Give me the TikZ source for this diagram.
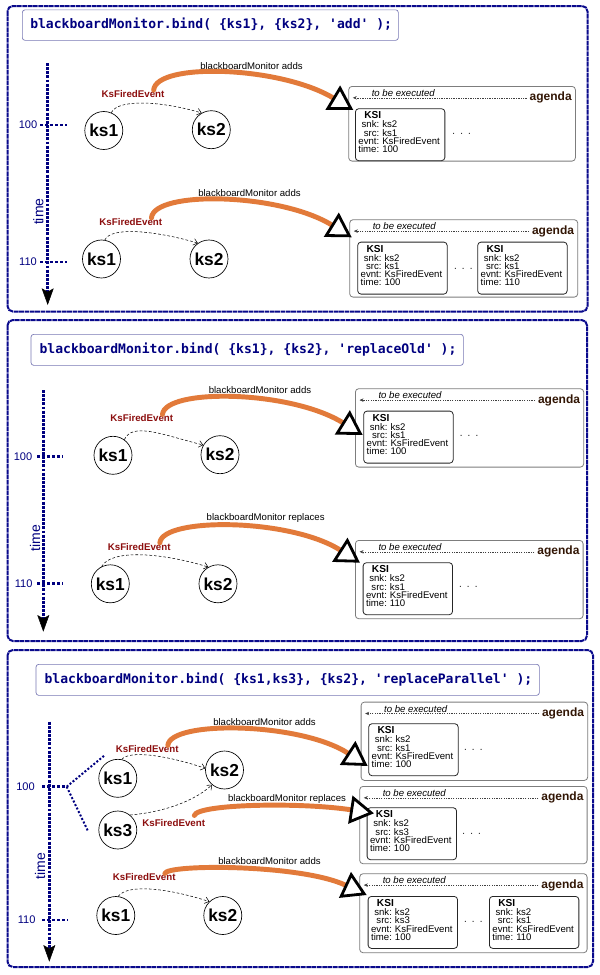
\documentclass[tikz,border=0pt]{standalone}
\usepackage{fontspec}
\setmainfont{Liberation Sans}
\newfontfamily\codefont{DejaVu Sans Mono}[Ligatures=TeXOff]
\usetikzlibrary{arrows.meta,calc}
\definecolor{navyc}{RGB}{0,0,128}
\definecolor{panelc}{RGB}{10,10,140}
\definecolor{titleframe}{RGB}{120,120,180}
\definecolor{orangec}{RGB}{226,122,58}
\definecolor{evred}{RGB}{140,14,14}
\definecolor{agbrown}{RGB}{50,22,5}
\definecolor{agframe}{RGB}{125,125,125}

\tikzset{
  panel/.style={draw=panelc, line width=1.5pt, dash pattern=on 3.5pt off 0.5pt, rounded corners=4pt},
  titlebox/.style={draw=titleframe, line width=0.5pt, rounded corners=2pt, anchor=north west, inner sep=0pt},
  titletext/.style={font=\codefont\bfseries\fontsize{9.8}{11}\selectfont, text=navyc, anchor=west, inner sep=0pt},
  timeaxis/.style={draw=navyc, line width=2.2pt, dash pattern=on 2.2pt off 0.9pt,
     -{Stealth[length=12.5pt,width=9pt,inset=2.5pt,color=black,line width=0.4pt]}},
  tickline/.style={draw=navyc, line width=2.2pt, dash pattern=on 2.2pt off 1.6pt},
  branch/.style={draw=navyc, line width=1.5pt, dash pattern=on 1.5pt off 1.4pt},
  ticklabel/.style={font=\fontsize{8.3}{10}\selectfont, text=navyc, inner sep=0pt},
  timelabel/.style={font=\fontsize{10.5}{12}\selectfont, text=navyc, inner sep=0pt, rotate=90},
  ksnode/.style={circle, draw, line width=0.5pt, fill=white, minimum size=28.5pt, inner sep=0pt, font=\bfseries\fontsize{13}{15}\selectfont},
  evlabel/.style={font=\bfseries\fontsize{7.3}{8}\selectfont, text=evred, inner sep=0pt},
  bmlabel/.style={font=\fontsize{7.2}{8}\selectfont, inner sep=0pt},
  evt/.style={draw=black, line width=0.4pt, dash pattern=on 2pt off 1.5pt, -{Straight Barb[length=3pt,width=5pt]}},
  bm/.style={draw=orangec, line width=3.7pt, line cap=round, -{Triangle[length=18pt,width=21pt,color=black,fill=white,line width=2.1pt]}},
  agbox/.style={draw=agframe, line width=0.6pt, rounded corners=2.5pt, anchor=north west, inner sep=0pt},
  tbe/.style={font=\itshape\fontsize{7.2}{8}\selectfont, inner sep=0pt},
  agtext/.style={font=\bfseries\fontsize{9}{10}\selectfont, text=agbrown, anchor=east, inner sep=0pt},
  agarrow/.style={draw=black!75, line width=0.4pt, dash pattern=on 1pt off 0.8pt, shorten <=2pt, -{Stealth[length=3pt,width=2.6pt]}},
  ksibox/.style={draw=black!85, line width=0.6pt, rounded corners=2.5pt, anchor=north west, inner sep=0pt, minimum width=67.1pt, minimum height=39pt},
  ksihead/.style={font=\bfseries\fontsize{7.6}{8}\selectfont, anchor=base west, inner sep=0pt},
  ksilab/.style={font=\fontsize{7.2}{8}\selectfont, anchor=base east, inner sep=0pt},
  ksival/.style={font=\fontsize{7.2}{8}\selectfont, anchor=base west, inner sep=0pt},
  ellip/.style={font=\fontsize{7.2}{8}\selectfont, inner sep=0pt},
}

\newcommand\agendablock[5]{%
 \begin{scope}[shift={(#2,#3)}]
  \node[agbox, minimum width=#4*0.75pt, minimum height=#5*0.75pt] (#1) at (0,0) {};
  \node[tbe] (#1-tbe) at (55,7) {to be executed};
  \node[agtext] (#1-ag) at (#4-3,11.8) {agenda};
  \coordinate (#1-end) at (4.5,11.8);
  \draw[agarrow] (#1-ag.west) -- (#1-end);
 \end{scope}}

\newcommand\ksiblock[5]{%
 \begin{scope}[shift={(#2,#3)}]
  \node[ksibox] (#1) at (0,0) {};
  \node[ksihead] (#1-h) at (9,10.3) {KSI};
  \node[ksilab] (#1-a1) at (24.5,19.6) {snk:};
  \node[ksival] (#1-b1) at (27,19.6) {ks2};
  \node[ksilab] (#1-a2) at (24.5,27.8) {src:};
  \node[ksival] (#1-b2) at (27,27.8) {#4};
  \node[ksilab] (#1-a3) at (24.5,36) {evnt:};
  \node[ksival] (#1-b3) at (27,36) {KsFiredEvent};
  \node[ksilab] (#1-a4) at (24.5,44.2) {time:};
  \node[ksival] (#1-b4) at (27,44.2) {#5};
 \end{scope}}

\newcommand\threedots{·\hspace{3.5pt}·\hspace{3.5pt}·}

\begin{document}
\begin{tikzpicture}[x=0.75pt,y=-0.75pt]
\useasboundingbox (0,0) rectangle (600,975);
\fill[white] (0,0) rectangle (600,975);

%%%%%%%%%%%%%%%% Panel 1
\draw[panel] (7.5,6) rectangle (587.5,311.5);
\node[titlebox, minimum width=376*0.75pt, minimum height=30.5*0.75pt] (p1-tb) at (22,9.5) {};
\node[titletext] (p1-tt) at (30,24.5) {blackboardMonitor.bind( \{ks1\}, \{ks2\}, 'add' );};

\coordinate (p1-ax0) at (47.7,63);
\coordinate (p1-ax1) at (47.7,305);
\draw[timeaxis] (p1-ax0) -- (p1-ax1);
\node[ticklabel] (p1-l100) at (28,125) {100};
\draw[tickline] (40,125) -- (67,125);
\node[ticklabel] (p1-l110) at (28,262) {110};
\draw[tickline] (40,262) -- (67,262);
\node[timelabel] (p1-time) at (38.3,211.7) {time};

% part a
\node[ksnode] (p1a-ks1) at (103.8,130.5) {ks1};
\node[ksnode] (p1a-ks2) at (211.3,129.7) {ks2};
\draw[evt] (p1a-ks1.67) .. controls +(6,-14) and +(-40,-12) .. (p1a-ks2.120);
\node[evlabel] (p1a-ev) at (133,94) {KsFiredEvent};
\node[bmlabel] (p1a-bm) at (251.5,66) {blackboardMonitor adds};
\agendablock{p1a-ag}{348.3}{86}{226.7}{74.7}
\ksiblock{p1a-k1}{355}{108.3}{ks1}{100}
\node[ellip] (p1a-dots) at (461.7,135) {\threedots};
\coordinate (p1a-tip) at (353.3,110);
\draw[bm] ($(p1a-ev.north east)+(-11,0)$) .. controls (156,62) and (280,66) .. (p1a-tip);

% part b
\node[ksnode] (p1b-ks1) at (101.5,259) {ks1};
\node[ksnode] (p1b-ks2) at (209,259) {ks2};
\draw[evt] (p1b-ks1.80) .. controls +(6,-14) and +(-40,-12) .. (p1b-ks2.125);
\node[evlabel] (p1b-ev) at (130.8,221.7) {KsFiredEvent};
\node[bmlabel] (p1b-bm) at (249.5,193.3) {blackboardMonitor adds};
\agendablock{p1b-ag}{349.3}{219.3}{228}{77.4}
\ksiblock{p1b-k1}{357.3}{241.7}{ks1}{100}
\ksiblock{p1b-k2}{477.3}{241.7}{ks1}{110}
\node[ellip] (p1b-dots) at (463.3,270) {\threedots};
\coordinate (p1b-tip) at (351.7,237.3);
\draw[bm] ($(p1b-ev.north east)+(-11,0)$) .. controls (154,190) and (280,193) .. (p1b-tip);

%%%%%%%%%%%%%%%% Panel 2
\draw[panel] (7.5,320) rectangle (587,641);
\node[titlebox, minimum width=432.3*0.75pt, minimum height=31*0.75pt] (p2-tb) at (30.7,334) {};
\node[titletext] (p2-tt) at (39.3,349.5) {blackboardMonitor.bind( \{ks1\}, \{ks2\}, 'replaceOld' );};

\coordinate (p2-ax0) at (43.3,390);
\coordinate (p2-ax1) at (43.3,631.7);
\draw[timeaxis] (p2-ax0) -- (p2-ax1);
\node[ticklabel] (p2-l100) at (23,456.7) {100};
\draw[tickline] (37,456.7) -- (63,456.7);
\node[ticklabel] (p2-l110) at (23.7,583.3) {110};
\draw[tickline] (37,583.3) -- (63,583.3);
\node[timelabel] (p2-time) at (35,538) {time};

% part a
\node[ksnode] (p2a-ks1) at (113,455.3) {ks1};
\node[ksnode] (p2a-ks2) at (220,454.7) {ks2};
\draw[evt] (p2a-ks1.54) .. controls +(8,-18) and +(-40,-10) .. (p2a-ks2.150);
\node[evlabel] (p2a-ev) at (141.8,418.3) {KsFiredEvent};
\node[bmlabel] (p2a-bm) at (260,390) {blackboardMonitor adds};
\agendablock{p2a-ag}{355}{388.3}{228.3}{78.4}
\ksiblock{p2a-k1}{363.3}{410.7}{ks1}{100}
\node[ellip] (p2a-dots) at (469,437) {\threedots};
\coordinate (p2a-tip) at (362.7,435);
\draw[bm] ($(p2a-ev.north east)+(-11,0)$) .. controls (165,388) and (290,390) .. (p2a-tip);

% part b
\node[ksnode] (p2b-ks1) at (110.3,583.8) {ks1};
\node[ksnode] (p2b-ks2) at (218,583.8) {ks2};
\draw[evt] (p2b-ks1.117) .. controls +(10,-18) and +(-45,-14) .. (p2b-ks2.120);
\node[evlabel] (p2b-ev) at (139.2,546.7) {KsFiredEvent};
\node[bmlabel] (p2b-bm) at (265.7,518.3) {blackboardMonitor replaces};
\agendablock{p2b-ag}{355}{540}{227.7}{78.3}
\ksiblock{p2b-k1}{362.7}{562.3}{ks1}{110}
\node[ellip] (p2b-dots) at (468.3,588.3) {\threedots};
\coordinate (p2b-tip) at (360,562.7);
\draw[bm] ($(p2b-ev.north east)+(-11,0)$) .. controls (162,517) and (290,518) .. (p2b-tip);

%%%%%%%%%%%%%%%% Panel 3
\draw[panel] (7.5,650) rectangle (593,967);
\node[titlebox, minimum width=503.3*0.75pt, minimum height=31*0.75pt] (p3-tb) at (35.7,664) {};
\node[titletext] (p3-tt) at (44.3,680) {blackboardMonitor.bind( \{ks1,ks3\}, \{ks2\}, 'replaceParallel' );};

\coordinate (p3-ax0) at (49.3,721.7);
\coordinate (p3-ax1) at (49.3,961.7);
\draw[timeaxis] (p3-ax0) -- (p3-ax1);
\node[ticklabel] (p3-l100) at (25.5,786.7) {100};
\draw[tickline] (42,786.7) -- (67,786.7);
\coordinate (p3-br0) at (66.7,786.7);
\coordinate (p3-br1) at (105,755);
\coordinate (p3-br2) at (88.3,831.7);
\draw[branch] (p3-br0) -- (p3-br1);
\draw[branch] (p3-br0) -- (p3-br2);
\node[ticklabel] (p3-l110) at (26.7,920) {110};
\draw[tickline] (42,920) -- (68,920);
\node[timelabel] (p3-time) at (40,866) {time};

% part a (ks1 and ks3 at 100)
\node[ksnode] (p3a-ks1) at (117.8,778.3) {ks1};
\node[ksnode] (p3a-ks2) at (224.5,770) {ks2};
\node[ksnode] (p3a-ks3) at (117.8,830) {ks3};
\draw[evt] (p3a-ks1.78) .. controls +(8,-10) and +(-35,-12) .. (p3a-ks2.175);
\draw[evt] (p3a-ks3.51) .. controls +(25,-2) and +(-22,20) .. (p3a-ks2.230);
\node[evlabel] (p3a-ev1) at (147.2,749.3) {KsFiredEvent};
\node[evlabel] (p3a-ev2) at (173.7,823.3) {KsFiredEvent};
\node[bmlabel] (p3a-bm1) at (264.5,721.7) {blackboardMonitor adds};
\node[bmlabel] (p3a-bm2) at (287,799) {blackboardMonitor replaces};

\agendablock{p3a-ag}{360.7}{701.7}{226.6}{78.3}
\ksiblock{p3a-k1}{368.3}{723.3}{ks1}{100}
\node[ellip] (p3a-dots) at (473.3,751) {\threedots};
\coordinate (p3a-tip) at (367.7,766);
\draw[bm] ($(p3a-ev1.north east)+(-11,0)$) .. controls (170,720) and (300,722) .. (p3a-tip);

\agendablock{p3b-ag}{359.3}{786}{227.4}{77.3}
\ksiblock{p3b-k1}{366.7}{807.3}{ks3}{100}
\node[ellip] (p3b-dots) at (471.7,835) {\threedots};
\coordinate (p3b-tip) at (374,813.3);
\draw[bm] ($(p3a-ev2.north east)+(-11,-4)$) .. controls (197,804) and (300,802) .. (p3b-tip);

% part c (110)
\node[ksnode] (p3c-ks1) at (115.8,915.5) {ks1};
\node[ksnode] (p3c-ks2) at (222.8,915.5) {ks2};
\draw[evt] (p3c-ks1.83) .. controls +(10,-13) and +(-40,-13) .. (p3c-ks2.134);
\node[evlabel] (p3c-ev) at (144.2,877.3) {KsFiredEvent};
\node[bmlabel] (p3c-bm) at (269.5,861.5) {blackboardMonitor adds};
\agendablock{p3c-ag}{359.3}{873.3}{227.4}{79}
\ksiblock{p3c-k1}{367.7}{896}{ks3}{100}
\ksiblock{p3c-k2}{489}{896}{ks1}{110}
\node[ellip] (p3c-dots) at (473.3,923.3) {\threedots};
\coordinate (p3c-tip) at (366.7,895);
\draw[bm] ($(p3c-ev.north east)+(-11,0)$) .. controls (167,864) and (300,864) .. (p3c-tip);

\end{tikzpicture}
\end{document}
